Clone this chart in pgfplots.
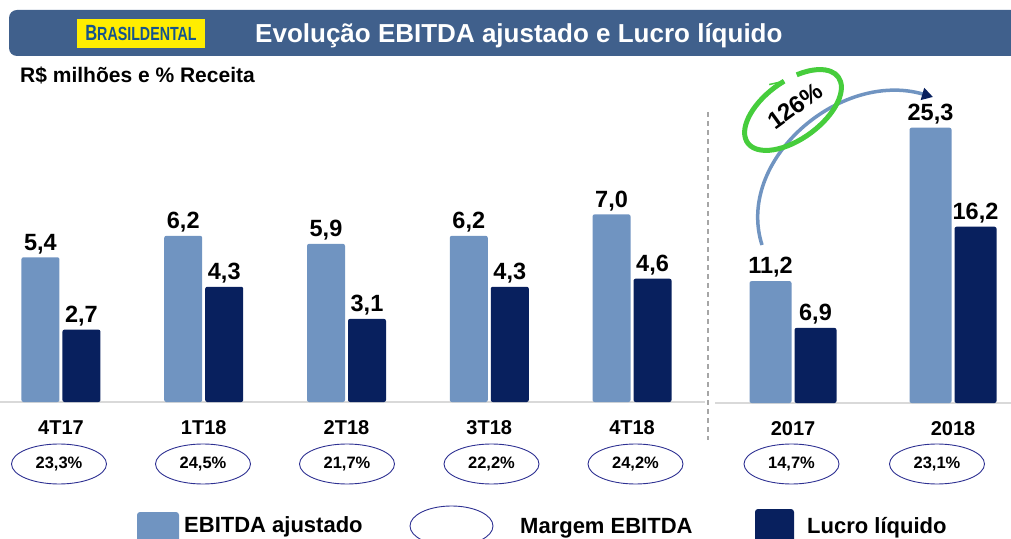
\documentclass[border=0pt]{standalone}
\usepackage{fontspec}
\setmainfont{Liberation Sans}
\usepackage{pgfplots}
\pgfplotsset{compat=1.18}
\usetikzlibrary{arrows.meta,shapes.geometric}

\definecolor{ebitda}{RGB}{112,148,193}
\definecolor{lucro}{RGB}{8,32,94}
\definecolor{header}{RGB}{64,96,140}
\definecolor{ringblue}{RGB}{46,49,146}
\definecolor{logoyellow}{RGB}{255,237,0}
\definecolor{logoblue}{RGB}{22,84,140}
\definecolor{basegray}{RGB}{217,217,217}
\definecolor{dashgray}{RGB}{166,166,166}
\definecolor{ringgreen}{RGB}{70,205,60}

\pgfplotsset{
  bars/.style={
    ybar=3pt, scale only axis, ymin=0, clip=false,
    anchor=south west,
    axis x line*=bottom, axis y line=none,
    x axis line style={draw=basegray, line width=2pt, -},
    xtick=data, major tick length=0pt,
    xticklabel style={font=\fontsize{20}{20}\selectfont\bfseries, anchor=base, yshift=-32pt},
    nodes near coords,
    nodes near coords style={font=\fontsize{23.5}{24}\selectfont\bfseries,
      inner sep=0pt, text depth=0pt, yshift=7pt},
    every node near coord/.append style={/pgf/number format/fixed,
      /pgf/number format/fixed zerofill,
      /pgf/number format/precision=1,
      /pgf/number format/use comma,
      /pgf/number format/assume math mode=true},
  },
}

\begin{document}
\begin{tikzpicture}[x=1pt,y=1pt]
\useasboundingbox (0,0) rectangle (1011,538);
\clip (0,0) rectangle (1011,538);

% header
\fill[header, rounded corners=8pt] (9,482) rectangle (1030,528);
\fill[logoyellow] (77,490) rectangle (205,519);
\node[text=logoblue, inner sep=0pt] at (141,504.5)
  {\scalebox{0.75}[1]{\bfseries\fontsize{22}{22}\selectfont B\fontsize{19}{19}\selectfont RASILDENTAL}};
\node[anchor=base west, inner sep=0pt, text=white, font=\fontsize{26}{26}\selectfont\bfseries]
  at (255,495) {Evolução EBITDA ajustado e Lucro líquido};
\node[anchor=base west, inner sep=0pt, font=\fontsize{21}{21}\selectfont\bfseries]
  at (20,455) {R\$ milhões e \% Receita};

% quarters
\begin{axis}[bars, at={(0pt,136pt)}, width=705pt, height=268pt, ymax=10,
  xmin=-0.427, xmax=4.511, bar width=38pt,
  xticklabels={4T17,1T18,2T18,3T18,4T18}]
\addplot[fill=ebitda, draw=none, rounded corners=2pt] coordinates {(0,5.4) (1,6.2) (2,5.9) (3,6.2) (4,7.0)};
\addplot[fill=lucro, draw=none, rounded corners=2pt] coordinates {(0,2.7) (1,4.3) (2,3.1) (3,4.3) (4,4.6)};
\end{axis}

% years
\begin{axis}[bars, at={(715pt,135pt)}, width=296pt, height=293.76pt, ymax=27,
  xmin=-0.4875, xmax=1.3625, bar width=42pt,
  xticklabels={2017,2018}]
\addplot[fill=ebitda, draw=none, rounded corners=2pt] coordinates {(0,11.2) (1,25.3)};
\addplot[fill=lucro, draw=none, rounded corners=2pt] coordinates {(0,6.9) (1,16.2)};
\end{axis}

\draw[dashgray, line width=1.3pt, dash pattern=on 5pt off 4pt] (708,426) -- (708,98);

% margem EBITDA
\foreach \x/\m in {59/{23,3\%}, 203/{24,5\%}, 347/{21,7\%}, 491.5/{22,2\%}, 635.5/{24,2\%}, 791.5/{14,7\%}, 937/{23,1\%}}
  \node[ellipse, draw=ringblue, line width=0.9pt, minimum width=95pt, minimum height=40pt,
    inner sep=0pt, font=\fontsize{16.5}{17}\selectfont\bfseries] at (\x,74) {\m};

% growth arrow
\draw[ebitda, line width=3.5pt, -{Triangle[length=11pt,width=12pt,color=lucro]}]
  (762,293) .. controls (735,378) and (840,468) .. (933,441);
\begin{scope}[shift={(793,428)}, rotate=36]
  \draw[ringgreen, line width=5pt] (80:56 and 29) arc[start angle=80, end angle=425, x radius=56, y radius=29];
  \draw[ringgreen, line width=1.5pt] (80:56 and 29) -- ++(-14,6);
\end{scope}
\node[rotate=36, font=\fontsize{24}{24}\selectfont\bfseries] at (795,432) {126\%};

% legend
\fill[ebitda, rounded corners=3pt] (137,-12) rectangle (179,26);
\node[anchor=base west, inner sep=0pt, font=\fontsize{22}{22}\selectfont\bfseries] at (184,6) {EBITDA ajustado};
\draw[ringblue, line width=0.9pt] (451.5,12) ellipse [x radius=41.5, y radius=20];
\node[anchor=base west, inner sep=0pt, font=\fontsize{22}{22}\selectfont\bfseries] at (520,5) {Margem EBITDA};
\fill[lucro, rounded corners=3pt] (755,-12) rectangle (794,29);
\node[anchor=base west, inner sep=0pt, font=\fontsize{22}{22}\selectfont\bfseries] at (807,5) {Lucro líquido};
\end{tikzpicture}
\end{document}
